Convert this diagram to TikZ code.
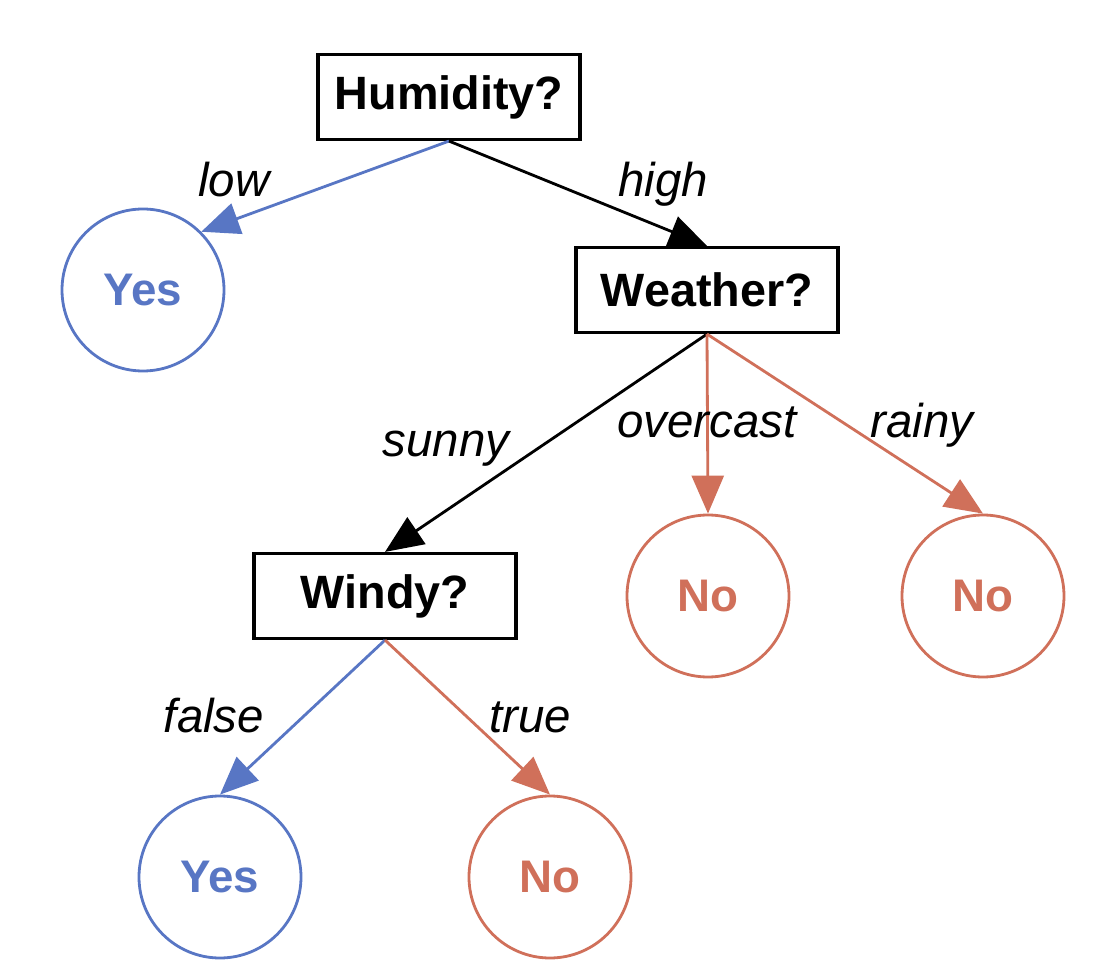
\documentclass[tikz,border=0pt]{standalone}
\usepackage{fontspec}
\setmainfont{Liberation Sans}
\usetikzlibrary{arrows.meta}

\definecolor{yescol}{RGB}{88,118,196}
\definecolor{nocol}{RGB}{208,112,90}

\tikzset{
  question/.style={draw, line width=0.9pt, minimum width=2.62cm, minimum height=0.85cm,
    font=\bfseries\fontsize{13.3}{16}\selectfont},
  yesleaf/.style={draw=yescol, text=yescol, circle, line width=0.8pt, minimum size=1.62cm,
    inner sep=0pt, font=\bfseries\fontsize{13}{16}\selectfont},
  noleaf/.style={yesleaf, draw=nocol, text=nocol},
  lbl/.style={anchor=base, font=\itshape\fontsize{13.5}{16}\selectfont},
  branch/.style={line width=0.8pt, -{Triangle[length=3.8mm, width=3.2mm]}}
}

\begin{document}
\begin{tikzpicture}
        \useasboundingbox (0, 0) rectangle (11.02, 9.72);

        \node [question] (hum) at (4.49, 8.75) {Humidity?};
        \node [question] (wea) at (7.07, 6.82) {Weather?};
        \node [question] (win) at (3.85, 3.76) {Windy?};

        \node [yesleaf] (yesA) at (1.43, 6.82) {Yes};
        \node [noleaf] (noA) at (7.08, 3.76) {No};
        \node [noleaf] (noB) at (9.83, 3.76) {No};
        \node [yesleaf] (yesB) at (2.20, 0.95) {Yes};
        \node [noleaf] (noC) at (5.50, 0.95) {No};

        \draw [branch, yescol] (hum.south) -- (yesA.north east);
        \draw [branch] (hum.south) -- (wea.north);
        \draw [branch] (wea.south) -- (win.north);
        \draw [branch, nocol] (wea.south) -- (noA.north);
        \draw [branch, nocol] (wea.south) -- (noB.north);
        \draw [branch, yescol] (win.south) -- (yesB.north);
        \draw [branch, nocol] (win.south) -- (noC.north);

        \node [lbl] (low) at (2.34, 7.75) {low};
        \node [lbl] (high) at (6.63, 7.75) {high};
        \node [lbl] (sunny) at (4.46, 5.15) {sunny};
        \node [lbl] (overcast) at (7.07, 5.34) {overcast};
        \node [lbl] (rainy) at (9.22, 5.34) {rainy};
        \node [lbl] (false) at (2.14, 2.40) {false};
        \node [lbl] (true) at (5.30, 2.40) {true};
      \end{tikzpicture}
\end{document}
